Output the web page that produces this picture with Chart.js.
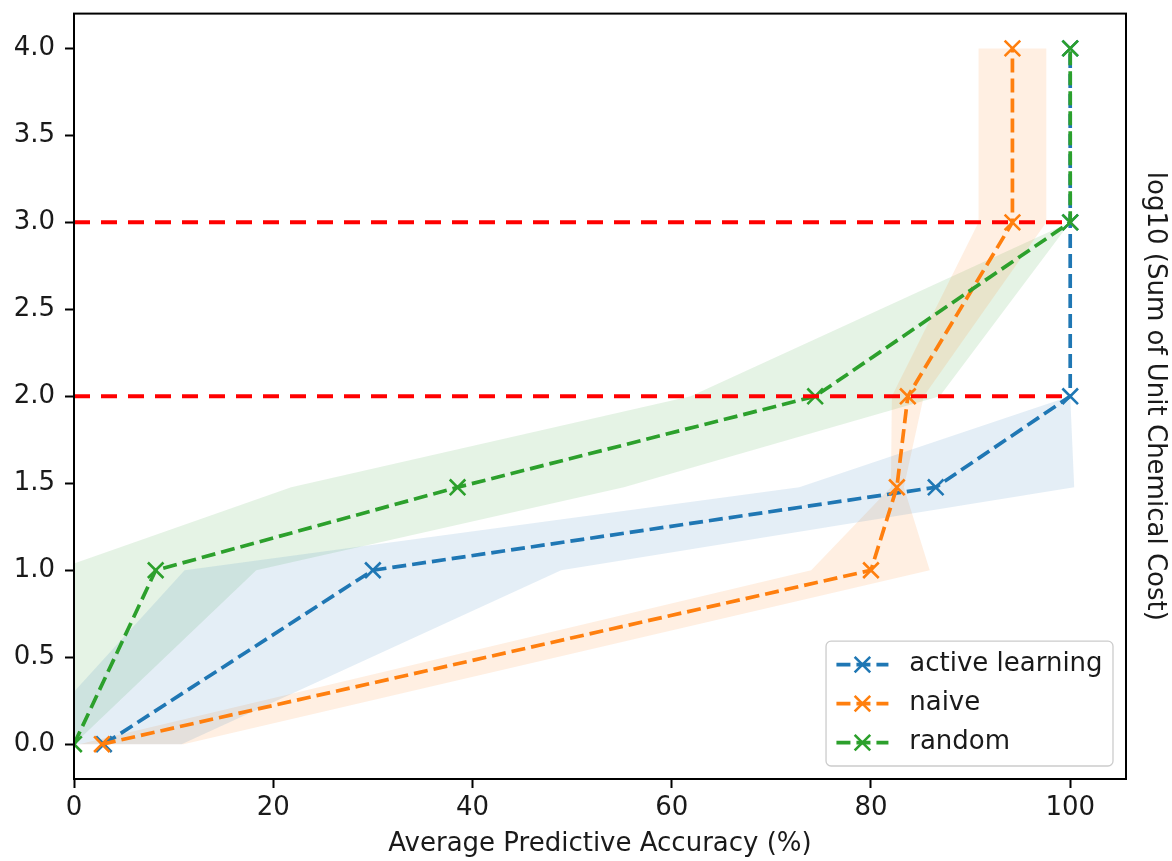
<!DOCTYPE html>
<html>
<head>
<meta charset="utf-8">
<script src="https://cdn.jsdelivr.net/npm/chart.js@4.4.1/dist/chart.umd.min.js"></script>
<style>
  html, body { margin: 0; padding: 0; background: #fff; }
  #chart { display: block; }
</style>
</head>
<body>
<canvas id="chart" width="1172" height="861"></canvas>
<script>
// log10 of the summed unit chemical cost at each budget step
const costLevels = [0, 1, 1.477, 2, 3, 4];

// mean accuracy (%) and the shaded spread, per method
const activeMean = [3.0, 30.0, 86.5, 100, 100, 100];
const activeLow  = [-4.8, 11.1, 72.8, 100, 100, 100];
const activeHigh = [10.8, 48.9, 100.4, 100, 100, 100];

const naiveMean = [2.8, 80.0, 82.6, 83.7, 94.2, 94.2];
const naiveLow  = [0.5, 74.0, 82.0, 82.1, 90.8, 90.8];
const naiveHigh = [11.0, 85.9, 83.3, 85.3, 97.6, 97.6];

const randomMean = [0.0, 8.2, 38.5, 74.4, 100, 100];
const randomLow  = [0.0, -1.9, 21.8, 61.9, 100, 100];
const randomHigh = [0.0, 18.3, 55.2, 86.9, 100, 100];

// red reference lines
const thresholdLevels = [2, 3];
const thresholdSpan = [0, 100];

const xTicks = [0, 20, 40, 60, 80, 100];
const yTicks = [0, 0.5, 1, 1.5, 2, 2.5, 3, 3.5, 4];

const FONT = '"DejaVu Sans", sans-serif';
const FS = 26;

const series = [
    { label: 'active learning', color: '#1f77b4', band: 'rgba(31,119,180,0.12)', mean: activeMean, low: activeLow, high: activeHigh, order: 3 },
    { label: 'naive', color: '#ff7f0e', band: 'rgba(255,127,14,0.12)', mean: naiveMean, low: naiveLow, high: naiveHigh, order: 2 },
    { label: 'random', color: '#2ca02c', band: 'rgba(44,160,44,0.12)', mean: randomMean, low: randomLow, high: randomHigh, order: 1 }
];

function toPoints(xs, ys) {
    return xs.map((x, i) => ({ x: x, y: ys[i] }));
}

// fill_betweenx style band: walk up the low side, back down the high side
function bandPoints(low, high, ys) {
    const left = toPoints(low, ys);
    const right = toPoints(high, ys).reverse();
    return left.concat(right);
}

const datasets = [];

series.forEach((s, i) => {
    datasets.push({
        data: bandPoints(s.low, s.high, costLevels),
        fill: 'shape',
        backgroundColor: s.band,
        borderWidth: 0,
        pointRadius: 0,
        tension: 0,
        order: 10 + i
    });
});

series.forEach(s => {
    datasets.push({
        label: s.label,
        legendEntry: true,
        data: toPoints(s.mean, costLevels),
        borderColor: s.color,
        backgroundColor: s.color,
        borderWidth: 3.7,
        borderDash: [14, 6],
        fill: false,
        tension: 0,
        pointStyle: 'crossRot',
        pointRadius: 11,
        pointBorderWidth: 2.6,
        pointBorderColor: s.color,
        order: s.order
    });
});

thresholdLevels.forEach(level => {
    datasets.push({
        data: thresholdSpan.map(x => ({ x: x, y: level })),
        borderColor: '#ff0000',
        borderWidth: 4,
        borderDash: [16, 11],
        pointRadius: 0,
        fill: false,
        order: 0
    });
});

function roundRect(ctx, x, y, w, h, r) {
    ctx.beginPath();
    ctx.moveTo(x + r, y);
    ctx.arcTo(x + w, y, x + w, y + h, r);
    ctx.arcTo(x + w, y + h, x, y + h, r);
    ctx.arcTo(x, y + h, x, y, r);
    ctx.arcTo(x, y, x + w, y, r);
    ctx.closePath();
}

// box around the plot, like matplotlib spines
const framePlugin = {
    id: 'frame',
    afterDatasetsDraw(chart) {
        const { ctx, chartArea: a } = chart;
        ctx.save();
        ctx.lineWidth = 2;
        ctx.strokeStyle = '#000';
        ctx.strokeRect(a.left, a.top, a.right - a.left, a.bottom - a.top);
        ctx.restore();
    }
};

// legend drawn inside the lower right corner
const legendPlugin = {
    id: 'insideLegend',
    afterDraw(chart) {
        const { ctx, chartArea } = chart;
        const entries = chart.data.datasets.filter(d => d.legendEntry);
        ctx.save();
        ctx.font = FS + 'px ' + FONT;
        const textW = Math.max(...entries.map(e => ctx.measureText(e.label).width));
        const pad = 0.4 * FS, handleLen = 2 * FS, textPad = 0.8 * FS, rowH = FS, gap = 0.5 * FS;
        const w = pad * 2 + handleLen + textPad + textW;
        const h = pad * 2 + entries.length * rowH + (entries.length - 1) * gap;
        const right = chartArea.right - 0.5 * FS;
        const bottom = chartArea.bottom - 0.5 * FS;
        const left = right - w, top = bottom - h;

        roundRect(ctx, left, top, w, h, 5);
        ctx.fillStyle = 'rgba(255,255,255,0.8)';
        ctx.fill();
        ctx.lineWidth = 1.3;
        ctx.strokeStyle = '#cccccc';
        ctx.stroke();

        entries.forEach((e, i) => {
            const cy = top + pad + rowH / 2 + i * (rowH + gap);
            const x0 = left + pad;
            ctx.setLineDash(e.borderDash);
            ctx.lineWidth = e.borderWidth;
            ctx.strokeStyle = e.borderColor;
            ctx.beginPath();
            ctx.moveTo(x0, cy);
            ctx.lineTo(x0 + handleLen, cy);
            ctx.stroke();
            ctx.setLineDash([]);

            const r = e.pointRadius * Math.SQRT1_2;
            const mx = x0 + handleLen / 2;
            ctx.lineWidth = e.pointBorderWidth;
            ctx.beginPath();
            ctx.moveTo(mx - r, cy - r); ctx.lineTo(mx + r, cy + r);
            ctx.moveTo(mx - r, cy + r); ctx.lineTo(mx + r, cy - r);
            ctx.stroke();

            ctx.fillStyle = '#1a1a1a';
            ctx.textBaseline = 'middle';
            ctx.textAlign = 'left';
            ctx.fillText(e.label, x0 + handleLen + textPad, cy);
        });
        ctx.restore();
    }
};

const tickGrid = {
    display: true,
    drawOnChartArea: false,
    drawTicks: true,
    tickLength: 9,
    tickWidth: 2,
    tickColor: '#000'
};

Chart.defaults.font.family = FONT;
Chart.defaults.font.size = FS;
Chart.defaults.color = '#1a1a1a';

new Chart(document.getElementById('chart'), {
    type: 'line',
    data: { datasets: datasets },
    options: {
        responsive: false,
        animation: false,
        events: [],
        devicePixelRatio: 1,
        layout: { padding: { top: 10, right: 0, bottom: 0, left: 0 } },
        plugins: {
            legend: { display: false },
            tooltip: { enabled: false },
            filler: { drawTime: 'beforeDatasetsDraw' }
        },
        scales: {
            x: {
                type: 'linear',
                min: 0,
                max: 105.6,
                afterBuildTicks: s => { s.ticks = xTicks.map(v => ({ value: v })); },
                afterFit: s => { s.height = 82; s.paddingLeft = 0; s.paddingRight = 0; },
                ticks: { padding: 5, callback: v => String(v) },
                grid: tickGrid,
                border: { display: false },
                title: { display: true, text: 'Average Predictive Accuracy (%)', padding: { top: 0, bottom: 1.5 } }
            },
            y: {
                type: 'linear',
                position: 'left',
                min: -0.2,
                max: 4.2,
                afterBuildTicks: s => { s.ticks = yTicks.map(v => ({ value: v })); },
                afterFit: s => { s.width = 74; s.paddingTop = 0; s.paddingBottom = 0; },
                ticks: { padding: 10, callback: v => v.toFixed(1) },
                grid: tickGrid,
                border: { display: false }
            },
            y2: {
                type: 'linear',
                position: 'right',
                min: -0.2,
                max: 4.2,
                afterFit: s => { s.width = 46; s.paddingTop = 0; s.paddingBottom = 0; },
                ticks: { display: false },
                grid: { display: false },
                border: { display: false },
                title: { display: true, text: 'log10 (Sum of Unit Chemical Cost)', padding: { top: 1.4, bottom: 0 } }
            }
        }
    },
    plugins: [framePlugin, legendPlugin]
});
</script>
</body>
</html>
